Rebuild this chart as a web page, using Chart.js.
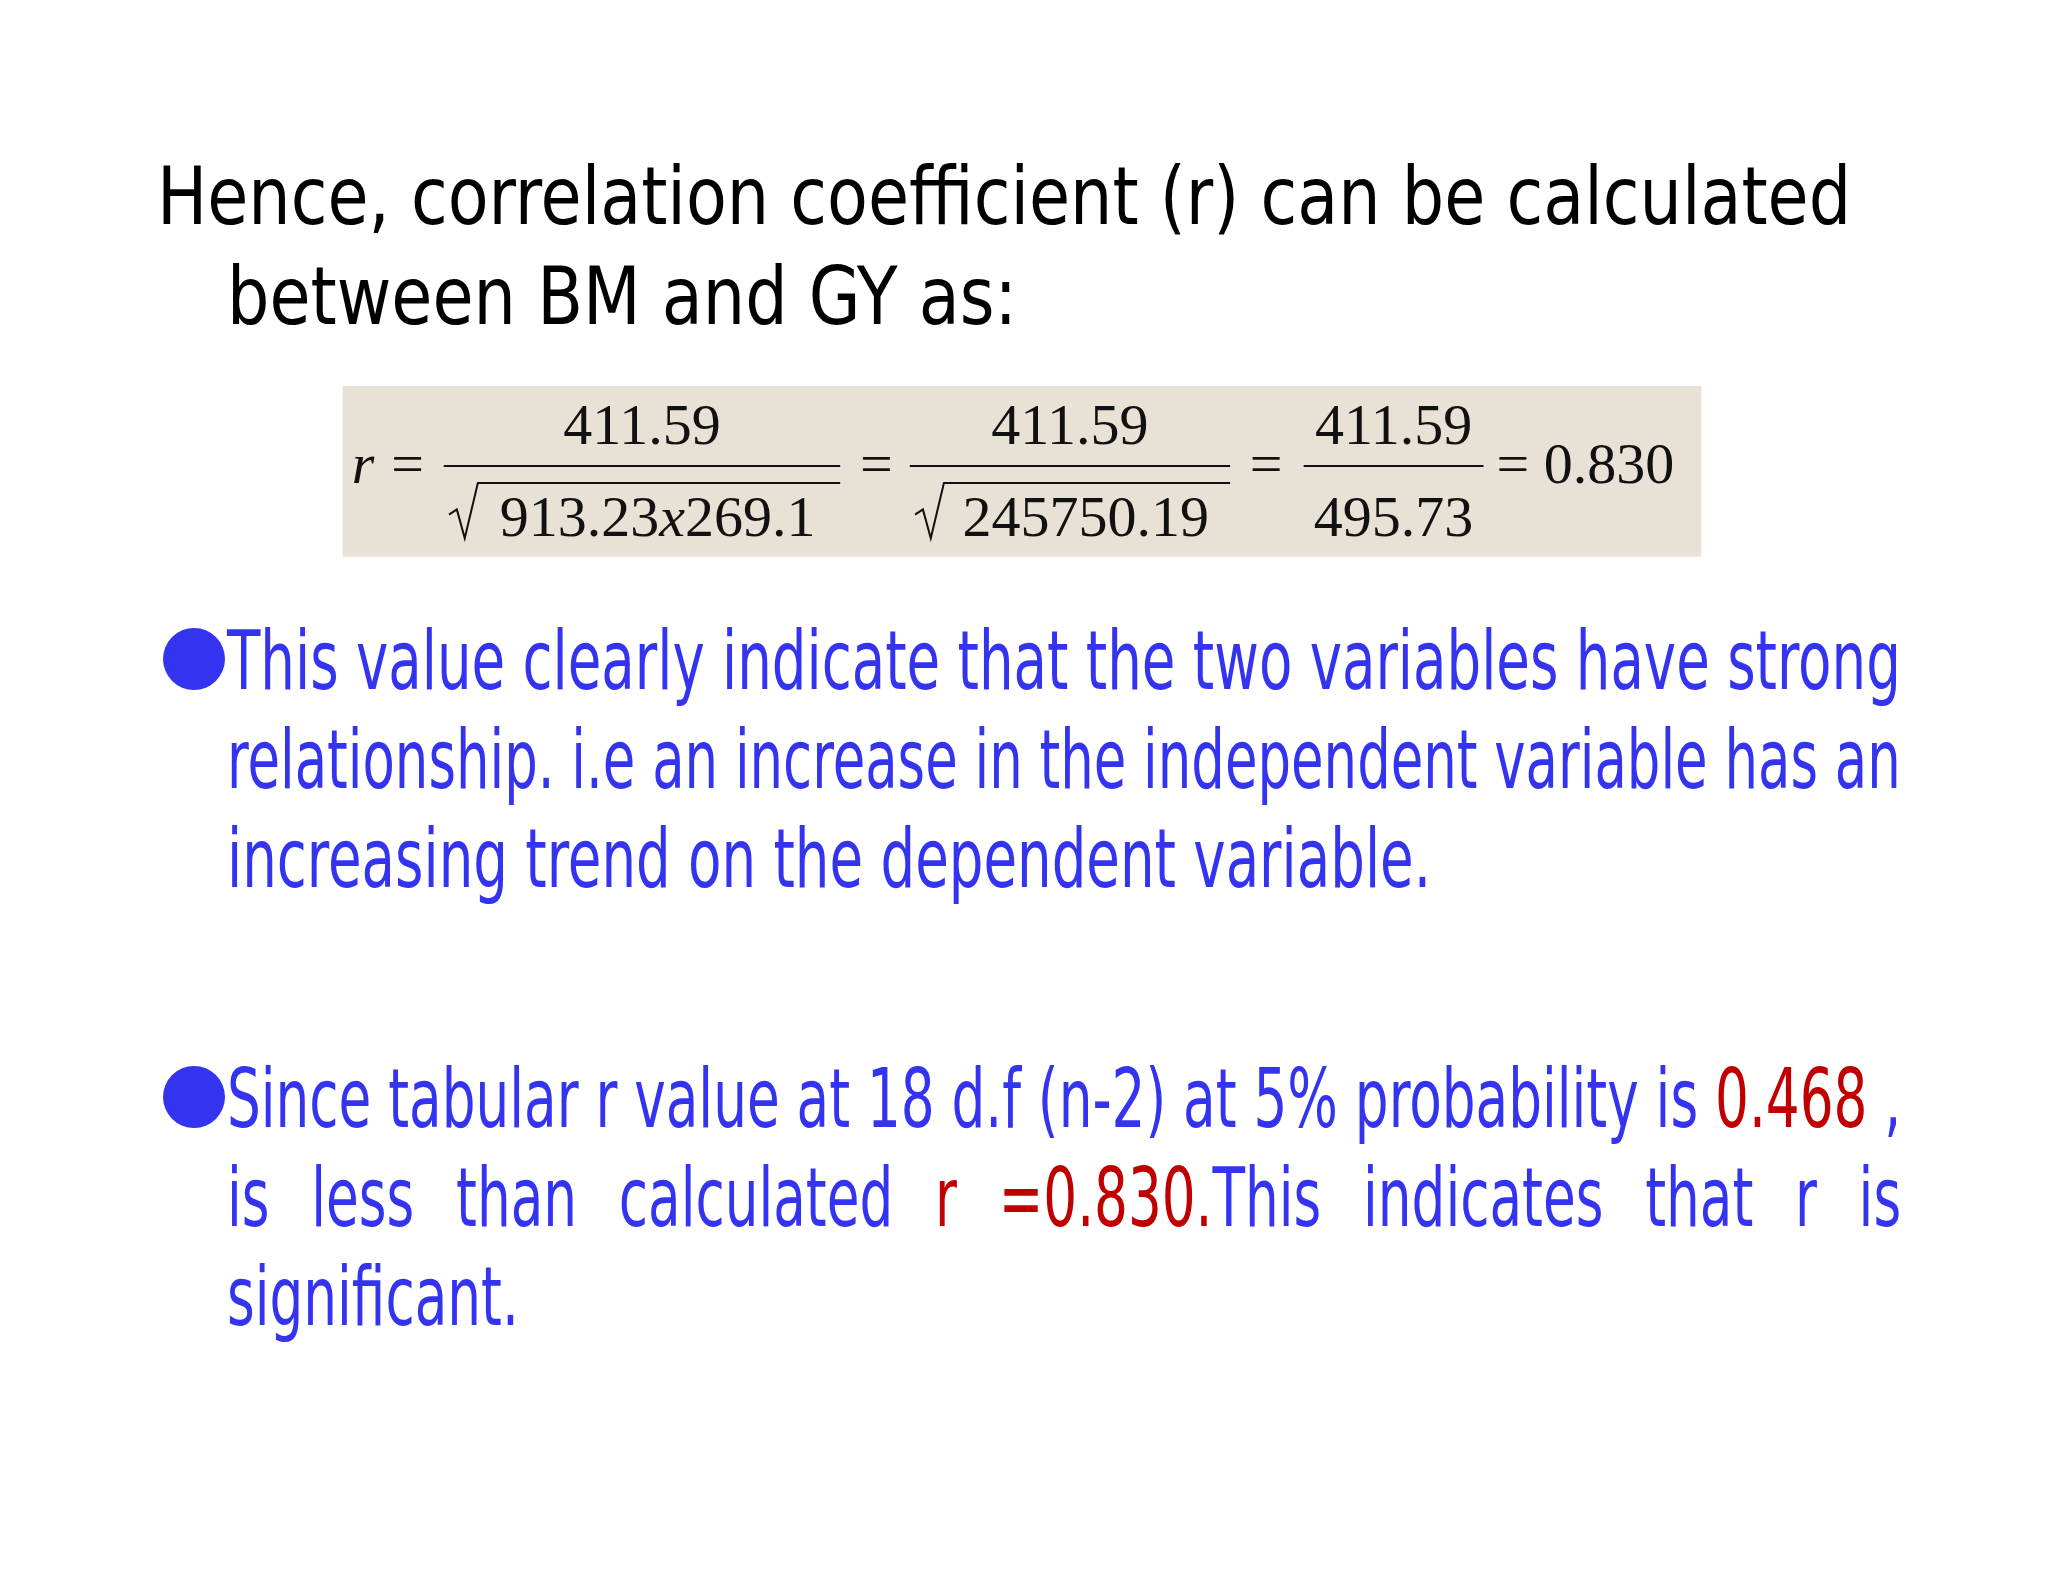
<!DOCTYPE html>
<html><head><meta charset="utf-8">
<script src="https://cdn.jsdelivr.net/npm/chart.js@4.4.0/dist/chart.umd.min.js"></script>
<style>
  html,body{margin:0;padding:0;background:#fff;}
  #page{position:relative;width:2048px;height:1582px;overflow:hidden;}
  #formula{position:absolute;left:0;top:0;}
  .ln{position:absolute;white-space:nowrap;font-family:"DejaVu Sans Condensed","Liberation Sans Narrow","Roboto",sans-serif;transform-origin:left top;}
  .head{font-size:80px;color:#000;}
  .blue{font-size:82px;color:#3434f0;}
  .red{color:#c00000;}
  .dot{position:absolute;width:62px;height:62px;border-radius:50%;background:#3434f0;}
</style></head>
<body><div id="page">
<canvas id="formula" width="2048" height="1582"></canvas>
<div class="ln head" id="h1" data-w="1694" style="left:157px;top:150px;">Hence, correlation coefficient (r) can be calculated</div>
<div class="ln head" data-ref="h1" style="left:227px;top:250px;">between BM and GY as:</div>

<div class="dot" style="left:163px;top:628px;"></div>
<div class="ln blue" id="a1" data-w="1674" style="left:227px;top:613px;">This value clearly indicate that the two variables have strong</div>
<div class="ln blue" data-w="1674" style="left:227px;top:712px;">relationship. i.e an increase in the independent variable has an</div>
<div class="ln blue" data-ref="a1" style="left:227px;top:811px;">increasing trend on the dependent variable.</div>

<div class="dot" style="left:163px;top:1066px;"></div>
<div class="ln blue" id="b1" data-w="1674" style="left:227px;top:1051px;">Since tabular r value at 18 d.f (n-2) at 5% probability is <span class="red">0.468</span> ,</div>
<div class="ln blue" data-w="1674" data-ws="1" style="left:227px;top:1150px;">is less than calculated <span class="red">r =0.830.</span>This indicates that r is</div>
<div class="ln blue" data-ref="b1" style="left:227px;top:1249px;">significant.</div>
</div>
<script>
// fit each text line to the slide's line width (narrow slide font)
const ratios = {};
document.querySelectorAll('.ln[data-w]').forEach(el => {
  const target = +el.dataset.w;
  let w = el.scrollWidth;
  let k = target / w;
  if (el.dataset.ws) {
    // justified line with wide gaps: use the ratio of the line above, widen spaces
    k = ratios.b1;
    const gaps = (el.textContent.match(/ /g) || []).length;
    el.style.wordSpacing = ((target / k - w) / gaps) + 'px';
  }
  if (el.id) ratios[el.id] = k;
  el.style.transform = 'scaleX(' + k + ')';
});
document.querySelectorAll('.ln[data-ref]').forEach(el => {
  el.style.transform = 'scaleX(' + ratios[el.dataset.ref] + ')';
});

// formula pieces (numerators / denominators)
const numerators = ['411.59', '411.59', '411.59'];
const denominators = ['913.23x269.1', '245750.19', '495.73'];
const result = '0.830';

const S = 2048 / 1560;
const fracs = [
  {x0: 338, x1: 640, root: true},
  {x0: 693, x1: 937, root: true},
  {x0: 993, x1: 1130, root: false}
];

const formulaPlugin = {
  id: 'formulaBox',
  afterDraw(chart) {
    const ctx = chart.ctx;
    ctx.save();
    ctx.fillStyle = '#e7e1d6';
    ctx.fillRect(261 * S, 294 * S, (1296 - 261) * S, (424 - 294) * S);
    ctx.fillStyle = '#111';
    ctx.strokeStyle = '#111';
    ctx.textBaseline = 'alphabetic';
    ctx.textAlign = 'left';
    ctx.font = 'italic 58px "Liberation Serif", serif';
    ctx.fillText('r', 268 * S, 368 * S);
    ctx.font = '58px "Liberation Serif", serif';
    ctx.fillText('=', 298 * S, 368 * S);
    fracs.forEach((f, i) => {
      const cx = (f.x0 + f.x1) / 2 * S;
      ctx.textAlign = 'center';
      ctx.fillText(numerators[i], cx, 338 * S);
      ctx.lineWidth = 2;
      ctx.beginPath();
      ctx.moveTo(f.x0 * S, 355 * S);
      ctx.lineTo(f.x1 * S, 355 * S);
      ctx.stroke();
      let dx = cx;
      if (f.root) {
        const rx = (f.x0 + 4) * S;
        ctx.beginPath();
        ctx.moveTo(rx, 392 * S);
        ctx.lineTo(rx + 6 * S, 388 * S);
        ctx.lineTo(rx + 12 * S, 410 * S);
        ctx.lineTo(rx + 22 * S, 368 * S);
        ctx.lineTo(f.x1 * S, 368 * S);
        ctx.stroke();
        dx = cx + 12 * S;
      }
      const d = denominators[i];
      if (d.indexOf('x') > 0) {
        const parts = d.split('x');
        ctx.textAlign = 'left';
        const w0 = ctx.measureText(parts[0]).width;
        ctx.font = 'italic 58px "Liberation Serif", serif';
        const wx = ctx.measureText('x').width;
        ctx.font = '58px "Liberation Serif", serif';
        const w1 = ctx.measureText(parts[1]).width;
        let x = dx - (w0 + wx + w1) / 2;
        ctx.fillText(parts[0], x, 408 * S); x += w0;
        ctx.font = 'italic 58px "Liberation Serif", serif';
        ctx.fillText('x', x, 408 * S); x += wx;
        ctx.font = '58px "Liberation Serif", serif';
        ctx.fillText(parts[1], x, 408 * S);
      } else {
        ctx.textAlign = 'center';
        ctx.fillText(d, dx, 408 * S);
      }
    });
    ctx.textAlign = 'left';
    ctx.fillText('=', 655 * S, 368 * S);
    ctx.fillText('=', 952 * S, 368 * S);
    ctx.fillText('= ' + result, 1140 * S, 368 * S);
    ctx.restore();
  }
};

new Chart(document.getElementById('formula'), {
  type: 'scatter',
  data: {datasets: [{data: []}]},
  options: {
    responsive: false,
    animation: false,
    plugins: {legend: {display: false}, tooltip: {enabled: false}},
    scales: {x: {display: false}, y: {display: false}}
  },
  plugins: [formulaPlugin]
});
</script>
</body></html>
